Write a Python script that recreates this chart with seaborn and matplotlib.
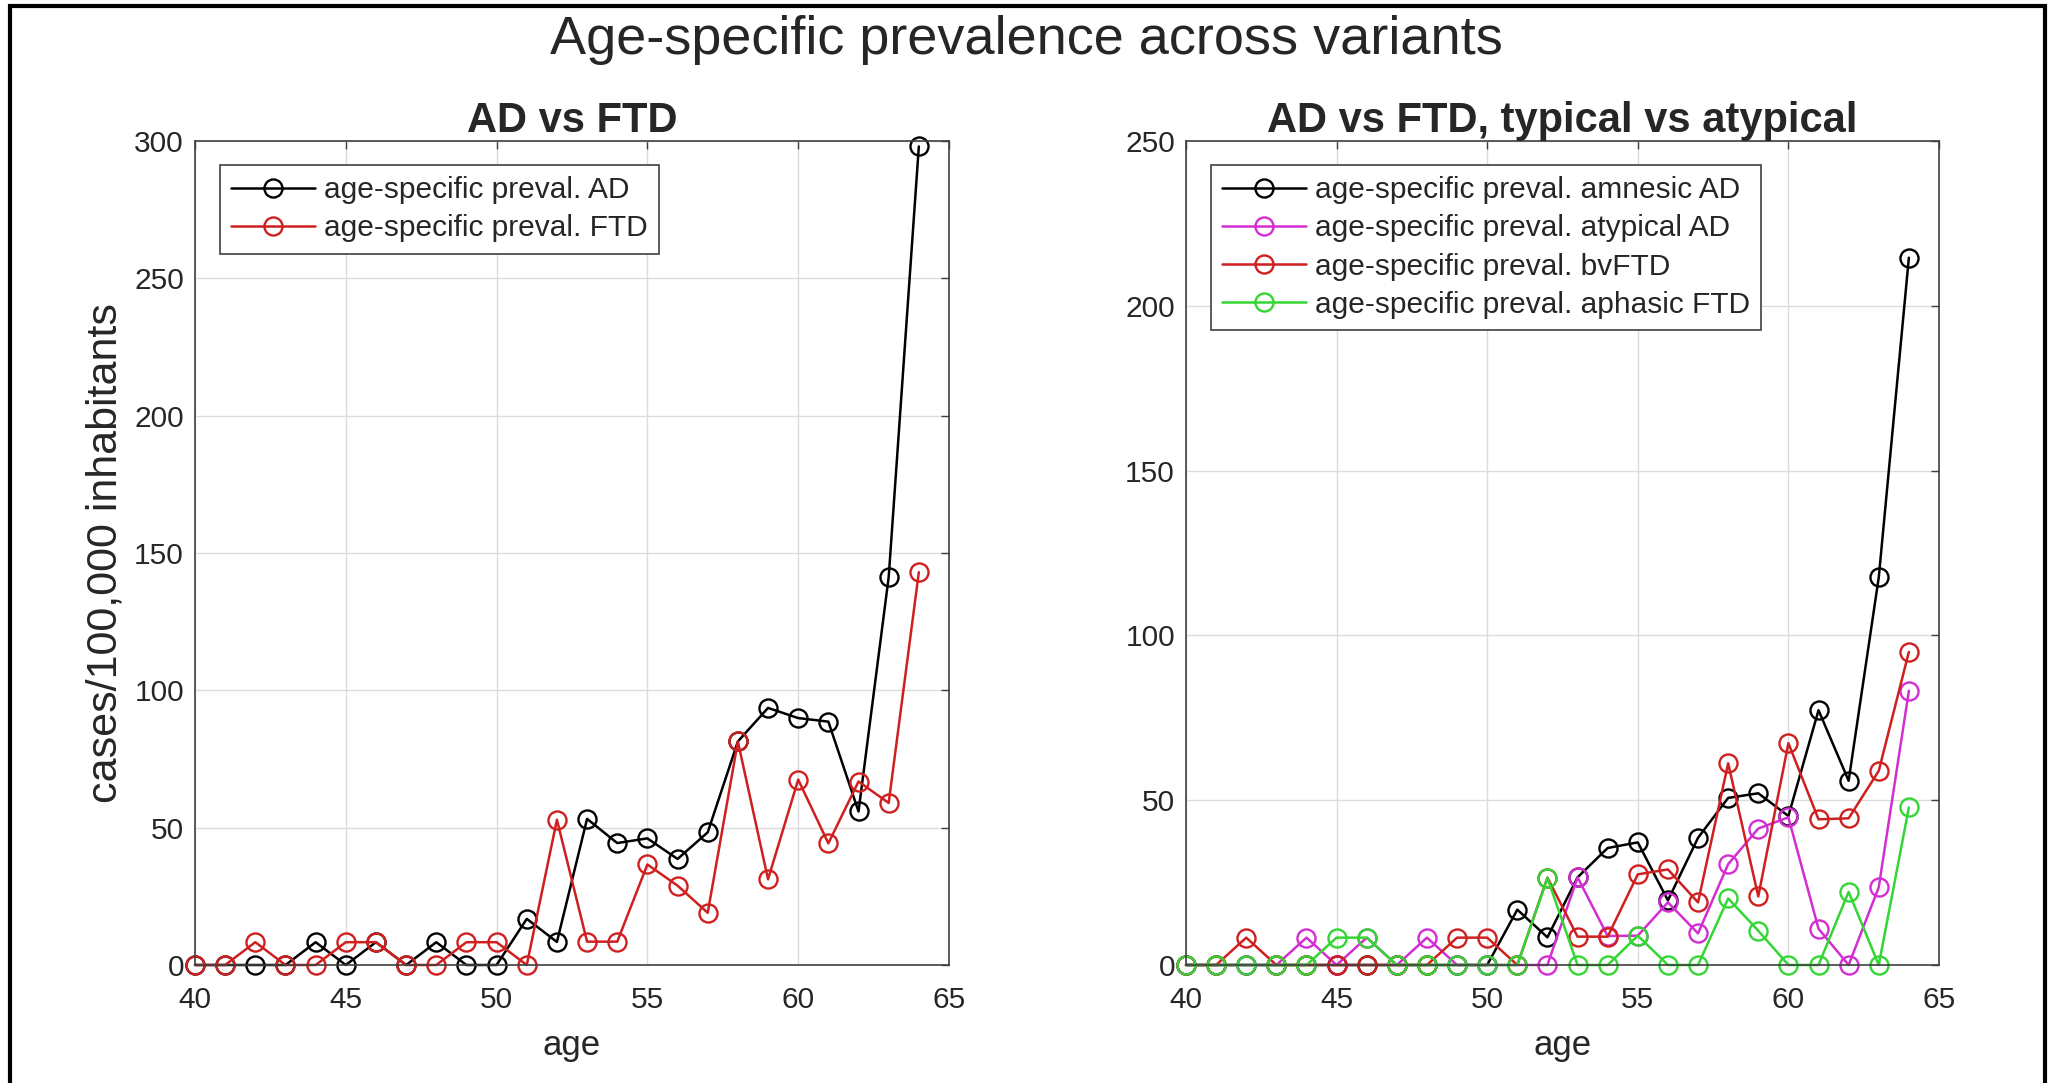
import numpy as np
import pandas as pd
import matplotlib
matplotlib.use("Agg")
import matplotlib.pyplot as plt
import matplotlib.patches as mpatches
import seaborn as sns

# ---------------- data ----------------
ages = list(range(40, 65))

# left panel: AD vs FTD
ad_all = [0, 0, 0, 0, 8.3, 0, 8.3, 0, 8.3, 0, 0, 16.8, 8.4, 53.2, 44.4, 46.1, 38.6, 48.3,
          81.4, 93.6, 89.9, 88.6, 55.9, 141.2, 298.0]
ftd_all = [0, 0, 8.3, 0, 0, 8.3, 8.3, 0, 0, 8.3, 8.3, 0, 52.9, 8.5, 8.5, 36.6, 28.9, 19.0,
           81.4, 31.2, 67.5, 44.3, 66.8, 59.0, 143.0]

# right panel: typical vs atypical
amnesic_ad = [0, 0, 0, 0, 0, 0, 0, 0, 0, 0, 0, 16.8, 8.4, 26.6, 35.5, 37.2, 19.6, 38.6,
              50.7, 52.1, 45.2, 77.3, 55.9, 117.6, 214.6]
atypical_ad = [0, 0, 0, 0, 8.3, 0, 8.3, 0, 8.3, 0, 0, 0, 0, 26.6, 8.8, 8.9, 19.0, 9.6,
               30.6, 41.4, 44.8, 11.0, 0, 23.6, 83.2]
bv_ftd = [0, 0, 8.3, 0, 0, 0, 0, 0, 0, 8.3, 8.3, 0, 26.5, 8.6, 8.6, 27.5, 29.0, 19.0,
          61.2, 20.8, 67.3, 44.2, 44.5, 58.9, 95.0]
aphasic_ftd = [0, 0, 0, 0, 0, 8.3, 8.3, 0, 0, 0, 0, 0, 26.4, 0, 0, 8.9, 0, 0,
               20.2, 10.4, 0, 0, 22.2, 0, 47.8]

left_labels = ["age-specific preval. AD", "age-specific preval. FTD"]
right_labels = ["age-specific preval. amnesic AD", "age-specific preval. atypical AD",
                "age-specific preval. bvFTD", "age-specific preval. aphasic FTD"]

main_title = "Age-specific prevalence across variants"
left_title = "AD vs FTD"
right_title = "AD vs FTD, typical vs atypical"
xlabel = "age"
ylabel = "cases/100,000 inhabitants"
xticks = [40, 45, 50, 55, 60, 65]
left_yticks = [0, 50, 100, 150, 200, 250, 300]
right_yticks = [0, 50, 100, 150, 200, 250]

C_BLACK = "#000000"
C_RED = "#cf1f1f"
C_MAG = "#d22ed2"
C_GREEN = "#33d633"

# ---------------- style ----------------
sns.set_style("white")
plt.rcParams["font.family"] = ["Liberation Sans", "DejaVu Sans"]

W, H = 2055, 1083
fig = plt.figure(figsize=(W / 100, H / 100), dpi=100)

axL = fig.add_axes([195 / W, 1 - 965 / H, 754 / W, 824 / H])
axR = fig.add_axes([1186 / W, 1 - 965 / H, 753 / W, 824 / H])


def draw(ax, series, colors, labels):
    for vals, c, lab in zip(series, colors, labels):
        df = pd.DataFrame({"age": ages, "val": vals})
        sns.lineplot(data=df, x="age", y="val", ax=ax, color=c, lw=1.8,
                     marker="o", markersize=13, markerfacecolor="none",
                     markeredgecolor=c, markeredgewidth=1.7, label=lab,
                     clip_on=False)


draw(axL, [ad_all, ftd_all], [C_BLACK, C_RED], left_labels)
draw(axR, [amnesic_ad, atypical_ad, bv_ftd, aphasic_ftd],
     [C_BLACK, C_MAG, C_RED, C_GREEN], right_labels)

for ax, yt, title in [(axL, left_yticks, left_title), (axR, right_yticks, right_title)]:
    ax.set_xlim(40, 65)
    ax.set_ylim(yt[0], yt[-1])
    ax.set_xticks(xticks)
    ax.set_yticks(yt)
    ax.grid(True, color="#dcdcdc", lw=1.0)
    ax.set_axisbelow(True)
    for sp in ax.spines.values():
        sp.set_visible(True)
        sp.set_color("#404040")
        sp.set_linewidth(1.2)
    ax.tick_params(axis="both", which="both", direction="in", length=6, width=1.0,
                   color="#404040", top=True, right=True, labelsize=21.5,
                   labelcolor="#262626")
    ax.tick_params(axis="x", pad=15)
    ax.tick_params(axis="y", pad=8)
    ax.set_xlabel(xlabel, fontsize=25, color="#262626", labelpad=11)
    ax.set_ylabel("")
    ax.set_title(title, fontsize=30, fontweight="bold", pad=6.5)
    leg = ax.legend(loc="upper left", bbox_to_anchor=(0.033, 0.971), borderaxespad=0,
                    fontsize=21.5, frameon=True, fancybox=False, framealpha=1,
                    edgecolor="#404040", handlelength=2.8, handletextpad=0.3,
                    labelspacing=0.34, borderpad=0.38)
    leg.get_frame().set_linewidth(1.2)

axL.set_ylabel(ylabel, fontsize=31, color="#262626", labelpad=6)

fig.text(1026 / W, 1 - 54 / H, main_title, ha="center", va="baseline", fontsize=39)

# figure frame
fig.patches.append(mpatches.Rectangle((10 / W, -0.05), 2035 / W, 1.05 - 6 / H,
                                      transform=fig.transFigure, fill=False,
                                      edgecolor="black", lw=3))

fig.savefig("out.png", dpi=100)
